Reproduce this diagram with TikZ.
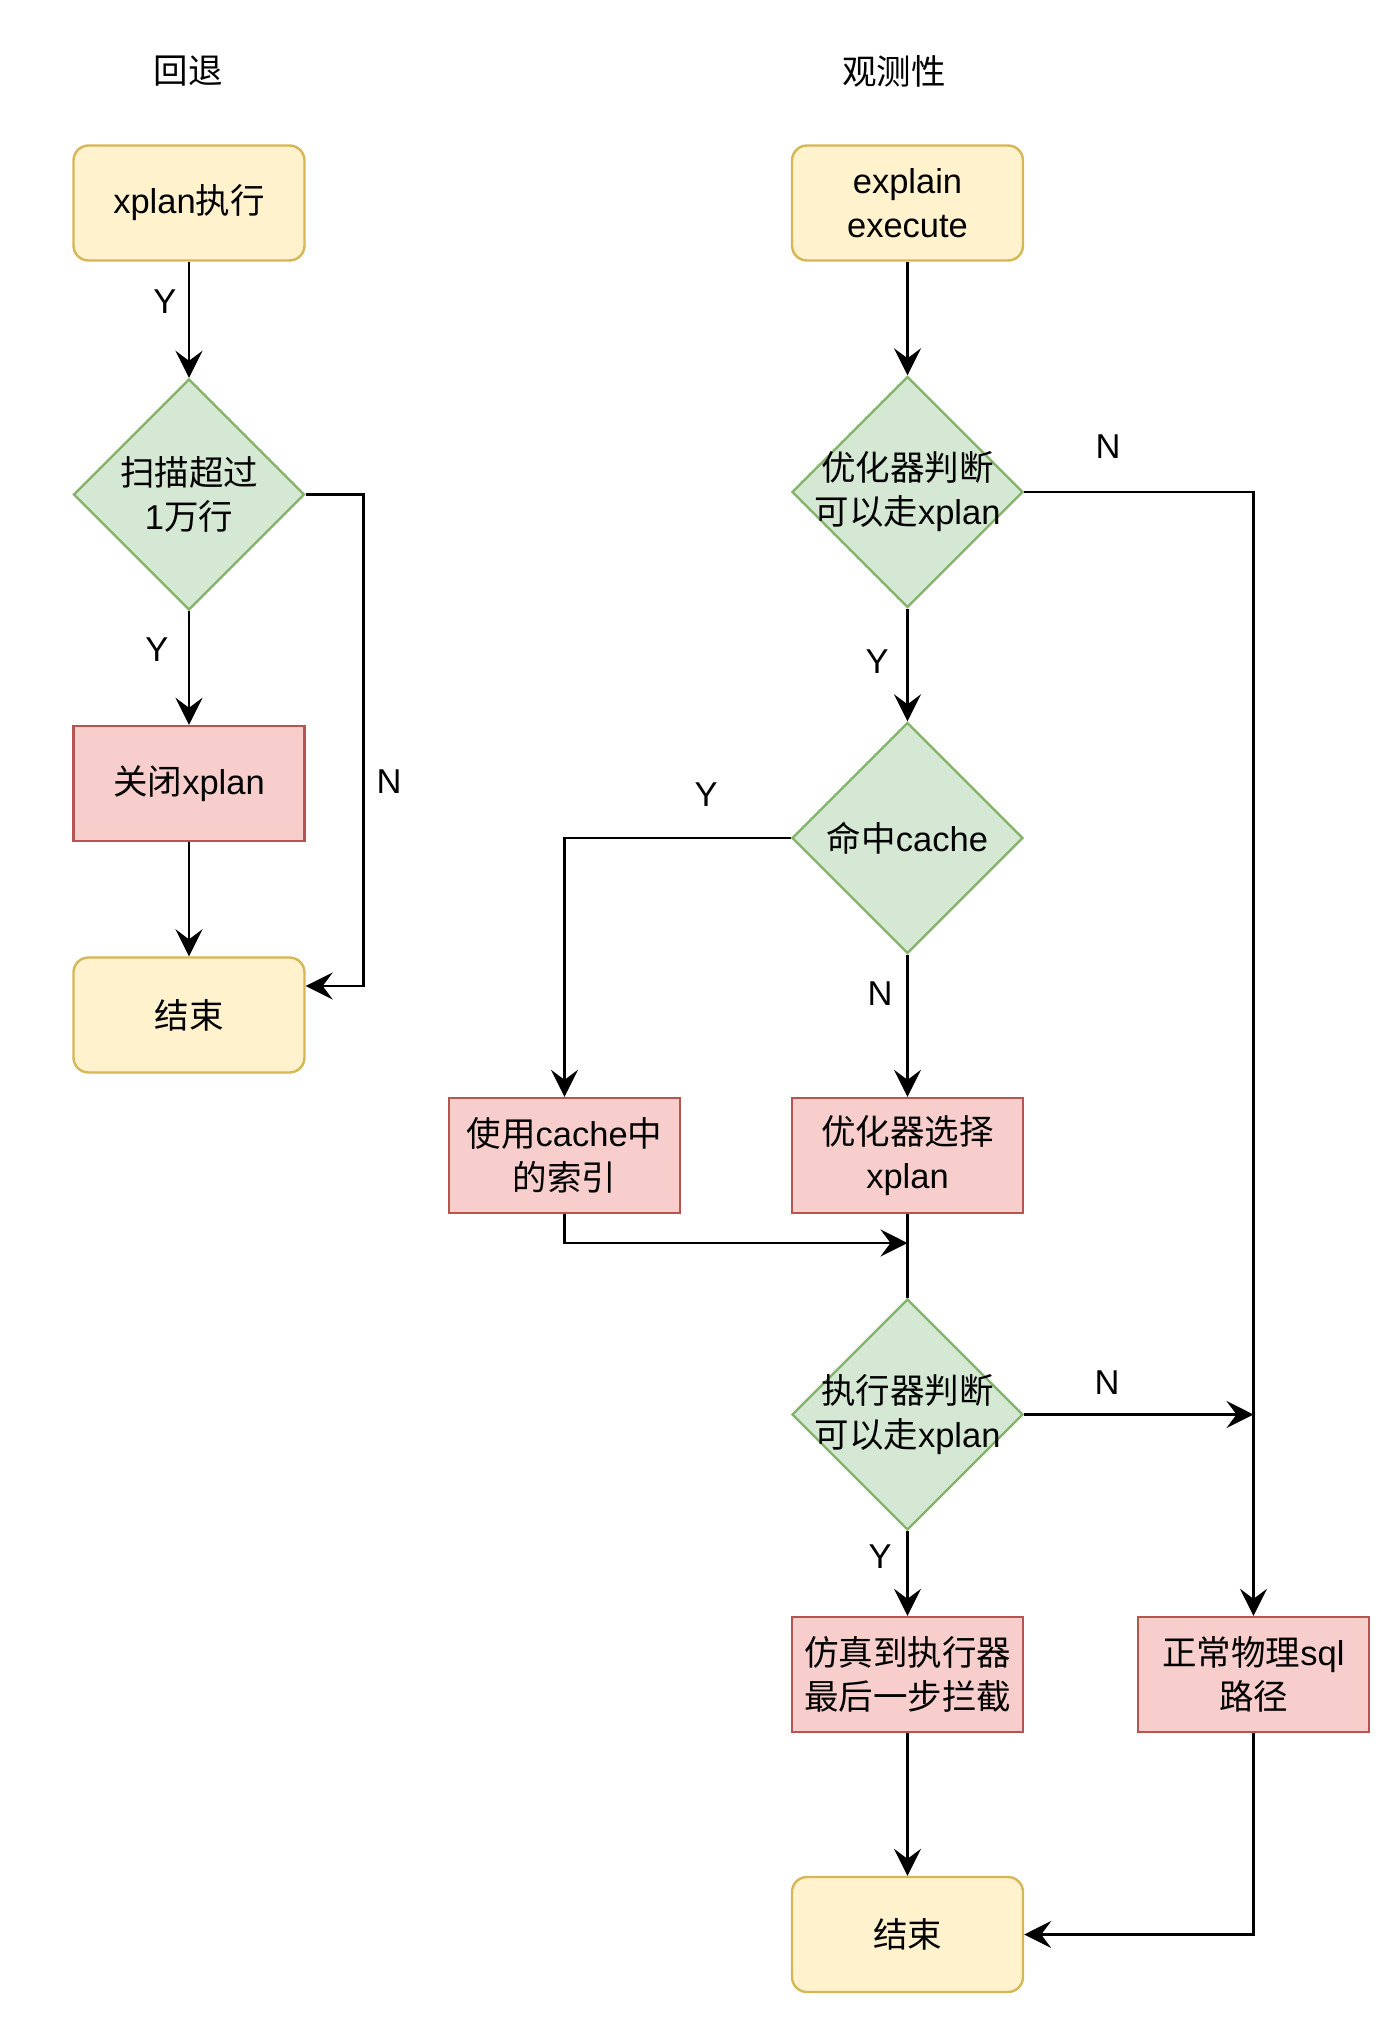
\documentclass[tikz,border=0pt]{standalone}
\usepackage{fontspec}
\setmainfont{Liberation Sans}
\newfontfamily\cjk{Noto Sans CJK SC}
\usetikzlibrary{shapes.geometric,arrows.meta}
\definecolor{yfill}{HTML}{FFF2CC}
\definecolor{ystroke}{HTML}{D6B656}
\definecolor{gfill}{HTML}{D5E8D4}
\definecolor{gstroke}{HTML}{82B366}
\definecolor{rfill}{HTML}{F8CECC}
\definecolor{rstroke}{HTML}{B85450}
\begin{document}
\begin{tikzpicture}[x=1pt,y=-1pt,
  every node/.style={font=\fontsize{34.5}{44}\selectfont, text=black},
  ybox/.style={draw=ystroke, fill=yfill, line width=2.4pt, rounded corners=15pt, minimum width=231pt, minimum height=115pt, align=center, inner sep=0pt},
  rbox/.style={draw=rstroke, fill=rfill, line width=2.4pt, minimum width=231pt, minimum height=115pt, align=center, inner sep=0pt},
  dia/.style={diamond, draw=gstroke, fill=gfill, line width=2.4pt, minimum width=231pt, minimum height=231pt, inner sep=0pt},
  conn/.style={line width=2.8pt, -{Stealth[length=27pt,width=27pt,inset=10pt]}},
  cline/.style={line width=2.8pt},
  lab/.style={inner sep=0pt}
]
\useasboundingbox (0,0) rectangle (1400,2024);

% titles
\node (t1) at (188,71) {\cjk 回退};
\node (t2) at (894,71) {\cjk 观测性};

% left column
\node[ybox] (s1) at (189,203) {xplan{\cjk 执行}};
\node[dia, label={[align=center]center:{\cjk 扫描超过}\\1{\cjk 万行}}] (d0) at (189,494.5) {};
\node[rbox] (c1) at (189,783.5) {{\cjk 关闭}xplan};
\node[ybox] (endL) at (189,1015) {\cjk 结束};

% right column
\node[ybox] (e1) at (907.5,203) {explain\\execute};
\node[dia, label={[align=center]center:{\cjk 优化器判断}\\{\cjk 可以走}xplan}] (d1) at (907.5,492) {};
\node[dia, label={[align=center]center:{\cjk 命中}cache}] (d2) at (907.5,838) {};
\node[rbox] (use) at (564.5,1155.5) {{\cjk 使用}cache{\cjk 中}\\{\cjk 的索引}};
\node[rbox] (opt) at (907.5,1155.5) {{\cjk 优化器选择}\\xplan};
\node[dia, label={[align=center]center:{\cjk 执行器判断}\\{\cjk 可以走}xplan}] (d3) at (907.5,1414.5) {};
\node[rbox] (sim) at (907.5,1674.5) {{\cjk 仿真到执行器}\\{\cjk 最后一步拦截}};
\node[rbox] (normal) at (1253.5,1674.5) {{\cjk 正常物理}sql\\{\cjk 路径}};
\node[ybox] (endR) at (907.5,1934.5) {\cjk 结束};

\coordinate (m1) at (907.5,1243);
\coordinate (m2) at (1253.5,1414.5);

% connectors left
\draw[conn] (s1) -- (d0);
\draw[conn] (d0) -- (c1);
\draw[conn] (c1) -- (endL);
\draw[conn] (d0.east) -- ++(57.5,0) |- ([yshift=29pt]endL.east);

% connectors right
\draw[conn] (e1) -- (d1);
\draw[conn] (d1.east) -| (normal.north);
\draw[conn] (d1) -- (d2);
\draw[conn] (d2.west) -| (use.north);
\draw[conn] (d2) -- (opt);
\draw[conn] (use.south) |- (m1);
\draw[cline] (opt) -- (d3);
\draw[conn] (d3.east) -- (m2);
\draw[conn] (d3) -- (sim);
\draw[conn] (sim) -- (endR);
\draw[conn] (normal.south) |- (endR.east);

% labels
\node[lab] (y1) at (165,302) {Y};
\node[lab] (y2) at (157,650) {Y};
\node[lab] (n1) at (389,782) {N};
\node[lab] (n2) at (1108,447) {N};
\node[lab] (y3) at (877,662) {Y};
\node[lab] (y4) at (706,795) {Y};
\node[lab] (n3) at (880,994) {N};
\node[lab] (n4) at (1107,1383) {N};
\node[lab] (y5) at (880,1557) {Y};
\end{tikzpicture}
\end{document}
